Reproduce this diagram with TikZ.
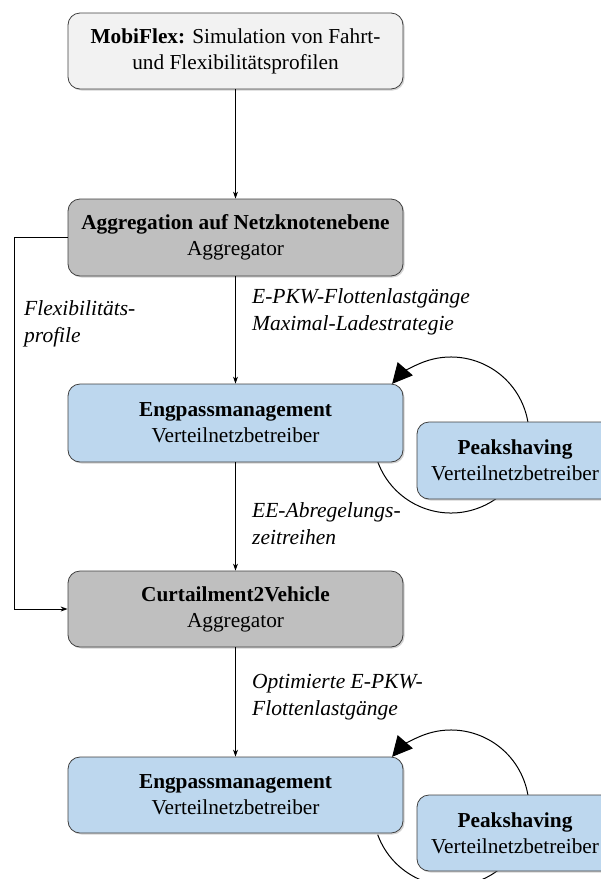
\documentclass[tikz,border=0pt]{standalone}
\usepackage{fontspec}
\setmainfont{Liberation Serif}
\usetikzlibrary{arrows.meta,shadows}
\definecolor{topfill}{HTML}{F2F2F2}
\definecolor{aggfill}{HTML}{BFBFBF}
\definecolor{bluefill}{HTML}{BDD7EE}
\definecolor{edge}{HTML}{404040}
\begin{document}
\begin{tikzpicture}[x=1pt,y=-1pt,
  box/.style={draw=edge, line width=0.8pt, rounded corners=12pt, align=center,
    font=\fontsize{21.3}{26}\selectfont, inner sep=0pt,
    drop shadow={shadow xshift=1.5pt, shadow yshift=-1.5pt, opacity=0.35}},
  mainbox/.style={box, minimum width=335pt},
  sidebox/.style={box, minimum width=196pt},
  lbl/.style={font=\fontsize{21.5}{27}\selectfont\itshape, align=left, anchor=west, inner sep=0pt},
  conn/.style={line width=0.9pt, -{Stealth[length=7pt,width=5pt]}},
  loop/.style={line width=1pt, -{Triangle[length=20pt,width=20pt]}}]
\useasboundingbox (0,0) rectangle (601,879);
% loops (behind boxes)
\draw[loop] (451,808) ++(160:78) arc[start angle=160, end angle=-139, radius=78];
\draw[loop] (451,435) ++(160:78) arc[start angle=160, end angle=-139, radius=78];
% boxes
\node[mainbox, fill=topfill, minimum height=76pt] (mobi) at (235.5,51)
  {\textbf{MobiFlex:} Simulation von Fahrt-\\und Flexibilitätsprofilen};
\node[mainbox, fill=aggfill, minimum height=77pt] (agg) at (235.5,237.5)
  {\textbf{Aggregation auf Netzknotenebene}\\Aggregator};
\node[mainbox, fill=bluefill, minimum height=78pt] (eng1) at (235.5,423)
  {\textbf{Engpassmanagement}\\Verteilnetzbetreiber};
\node[sidebox, fill=bluefill, minimum height=77pt] (peak1) at (515,460.5)
  {\textbf{Peakshaving}\\Verteilnetzbetreiber};
\node[mainbox, fill=aggfill, minimum height=76pt] (c2v) at (235.5,609)
  {\textbf{Curtailment2Vehicle}\\Aggregator};
\node[mainbox, fill=bluefill, minimum height=76pt] (eng2) at (235.5,795)
  {\textbf{Engpassmanagement}\\Verteilnetzbetreiber};
\node[sidebox, fill=bluefill, minimum height=76pt] (peak2) at (515,833)
  {\textbf{Peakshaving}\\Verteilnetzbetreiber};
% connectors
\draw[conn] (mobi) -- (agg);
\draw[conn] (agg) -- (eng1);
\draw[conn] (eng1) -- (c2v);
\draw[conn] (c2v) -- (eng2);
\coordinate (fbA) at (14,237.5);
\coordinate (fbB) at (14,609);
\draw[conn] (agg.west) -- (fbA) -- (fbB) -- (c2v.west);
% labels
\node[lbl] (l1) at (252,312) {E-PKW-Flottenlastgänge\\Maximal-Ladestrategie};
\node[lbl] (l2) at (24,324) {Flexibilitäts-\\profile};
\node[lbl] (l3) at (252,524) {EE-Abregelungs-\\zeitreihen};
\node[lbl] (l4) at (252,697) {Optimierte E-PKW-\\Flottenlastgänge};
\end{tikzpicture}
\end{document}
